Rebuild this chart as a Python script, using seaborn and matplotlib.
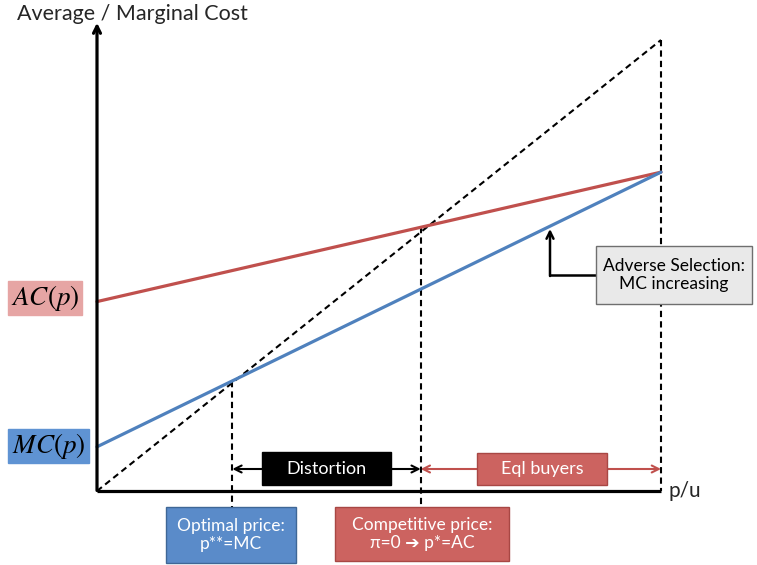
import numpy as np
import pandas as pd
import matplotlib
matplotlib.use("Agg")
import matplotlib.pyplot as plt
from matplotlib.patches import Rectangle
import seaborn as sns

# datos (unidades: precio normalizado p/u en [0, 1])
precio = [0.0, 1.0]
costo_medio = [0.42, 0.707]      # AC(p)
costo_marginal = [0.098, 0.707]  # MC(p)
diagonal = [0.0, 1.0]            # p = costo
p_optimo = 0.24                  # p** = MC
p_competitivo = 0.574            # p* = AC

ROJO = "#c0504d"
AZUL = "#4f81bd"

sns.set_style("white")
plt.rcParams["font.family"] = ["Lato", "DejaVu Sans"]
plt.rcParams["mathtext.fontset"] = "stix"

fig = plt.figure(figsize=(7.57, 5.65), dpi=100)
ax = fig.add_axes([0, 0, 1, 1])
ax.set_xlim(-97 / 564, 660 / 564)
ax.set_ylim(-74 / 451, 491 / 451)
ax.axis("off")


def px(x, y):
    # posicion en pixeles de la imagen -> coordenadas de datos
    return (x - 97) / 564, (491 - y) / 451


def caja(x0, y0, x1, y1, texto, fondo, borde, color="white", size=12.5, **kw):
    a = px(x0, y1)
    b = px(x1, y0)
    ax.add_patch(Rectangle(a, b[0] - a[0], b[1] - a[1], facecolor=fondo,
                           edgecolor=borde, lw=1, zorder=5))
    ax.text((a[0] + b[0]) / 2, (a[1] + b[1]) / 2, texto, ha="center",
            va="center", color=color, fontsize=size, zorder=6,
            linespacing=1.15, **kw)


df = pd.DataFrame({"p": precio, "AC": costo_medio, "MC": costo_marginal,
                   "diag": diagonal})

sns.lineplot(data=df, x="p", y="AC", color=ROJO, lw=2.3, ax=ax, zorder=3)
sns.lineplot(data=df, x="p", y="MC", color=AZUL, lw=2.3, ax=ax, zorder=3)
sns.lineplot(data=df, x="p", y="diag", color="black", lw=1.5, ax=ax,
             linestyle=(0, (3, 2)), zorder=2)

# verticales punteadas
y_bajo = px(0, 507)[1]
mc_opt = np.interp(p_optimo, precio, costo_marginal)
ac_comp = np.interp(p_competitivo, precio, costo_medio)
ax.plot([p_optimo, p_optimo], [mc_opt, y_bajo], color="black", lw=1.5,
        linestyle=(0, (3, 2)), zorder=2)
ax.plot([p_competitivo, p_competitivo], [ac_comp, y_bajo], color="black",
        lw=1.5, linestyle=(0, (3, 2)), zorder=2)
ax.plot([precio[-1], precio[-1]], [diagonal[-1], 0], color="black", lw=1.5,
        linestyle=(0, (3, 2)), zorder=2)

# ejes
ax.plot([0, precio[-1]], [0, 0], color="black", lw=2.3, zorder=4,
        solid_capstyle="butt")
ax.annotate("", xy=(0, px(0, 20)[1]), xytext=(0, -0.005),
            arrowprops=dict(arrowstyle="->,head_length=0.5,head_width=0.25",
                            color="black", lw=2.3), zorder=4)
ax.text(*px(17, 14), "Average / Marginal Cost", fontsize=15.5, ha="left",
        va="center")
ax.text(*px(668, 491), "p/u", fontsize=15, ha="left", va="center")

# flechas dobles
y_fl = px(0, 469)[1]
ax.annotate("", xy=(p_optimo, y_fl), xytext=(p_competitivo, y_fl),
            arrowprops=dict(arrowstyle="<->,head_length=0.5,head_width=0.25",
                            color="black", lw=1.5, shrinkA=0, shrinkB=0))
ax.annotate("", xy=(p_competitivo, y_fl), xytext=(precio[-1], y_fl),
            arrowprops=dict(arrowstyle="<->,head_length=0.5,head_width=0.25",
                            color=ROJO, lw=1.5, shrinkA=0, shrinkB=0))

# etiquetas de las curvas
caja(8, 281, 82, 315, r"$AC(p)$", "#e6a5a4", "#e6a5a4", color="black", size=19.5)
caja(8, 429, 89, 463, r"$MC(p)$", "#5f93d3", "#5f93d3", color="black", size=19.5)

caja(262, 452, 391, 485, "Distortion", "black", "black", size=13)
caja(477, 453, 607, 485, "Eql buyers", "#cc6360", "#a84744", size=13)
caja(166, 507, 296, 563, "Optimal price:\np**=MC", "#5a8bc9", "#3f6796",
     size=12.5)
caja(335, 507, 509, 561, "Competitive price:\nπ=0 ➔ p*=AC", "#cc6360",
     "#a84744", size=12.5)
caja(596, 246, 752, 304, "Adverse Selection:\nMC increasing", "#e9e9e9",
     "#6f6f6f", color="black", size=12.5)

# conector de seleccion adversa
ax.plot([px(596, 0)[0], px(550, 0)[0]], [px(0, 275)[1]] * 2, color="black",
        lw=1.8, zorder=4)
ax.annotate("", xy=px(550, 229), xytext=px(550, 276),
            arrowprops=dict(arrowstyle="->,head_length=0.5,head_width=0.25",
                            color="black", lw=1.8, shrinkA=0, shrinkB=0),
            zorder=4)

fig.savefig("out.png", dpi=100)
